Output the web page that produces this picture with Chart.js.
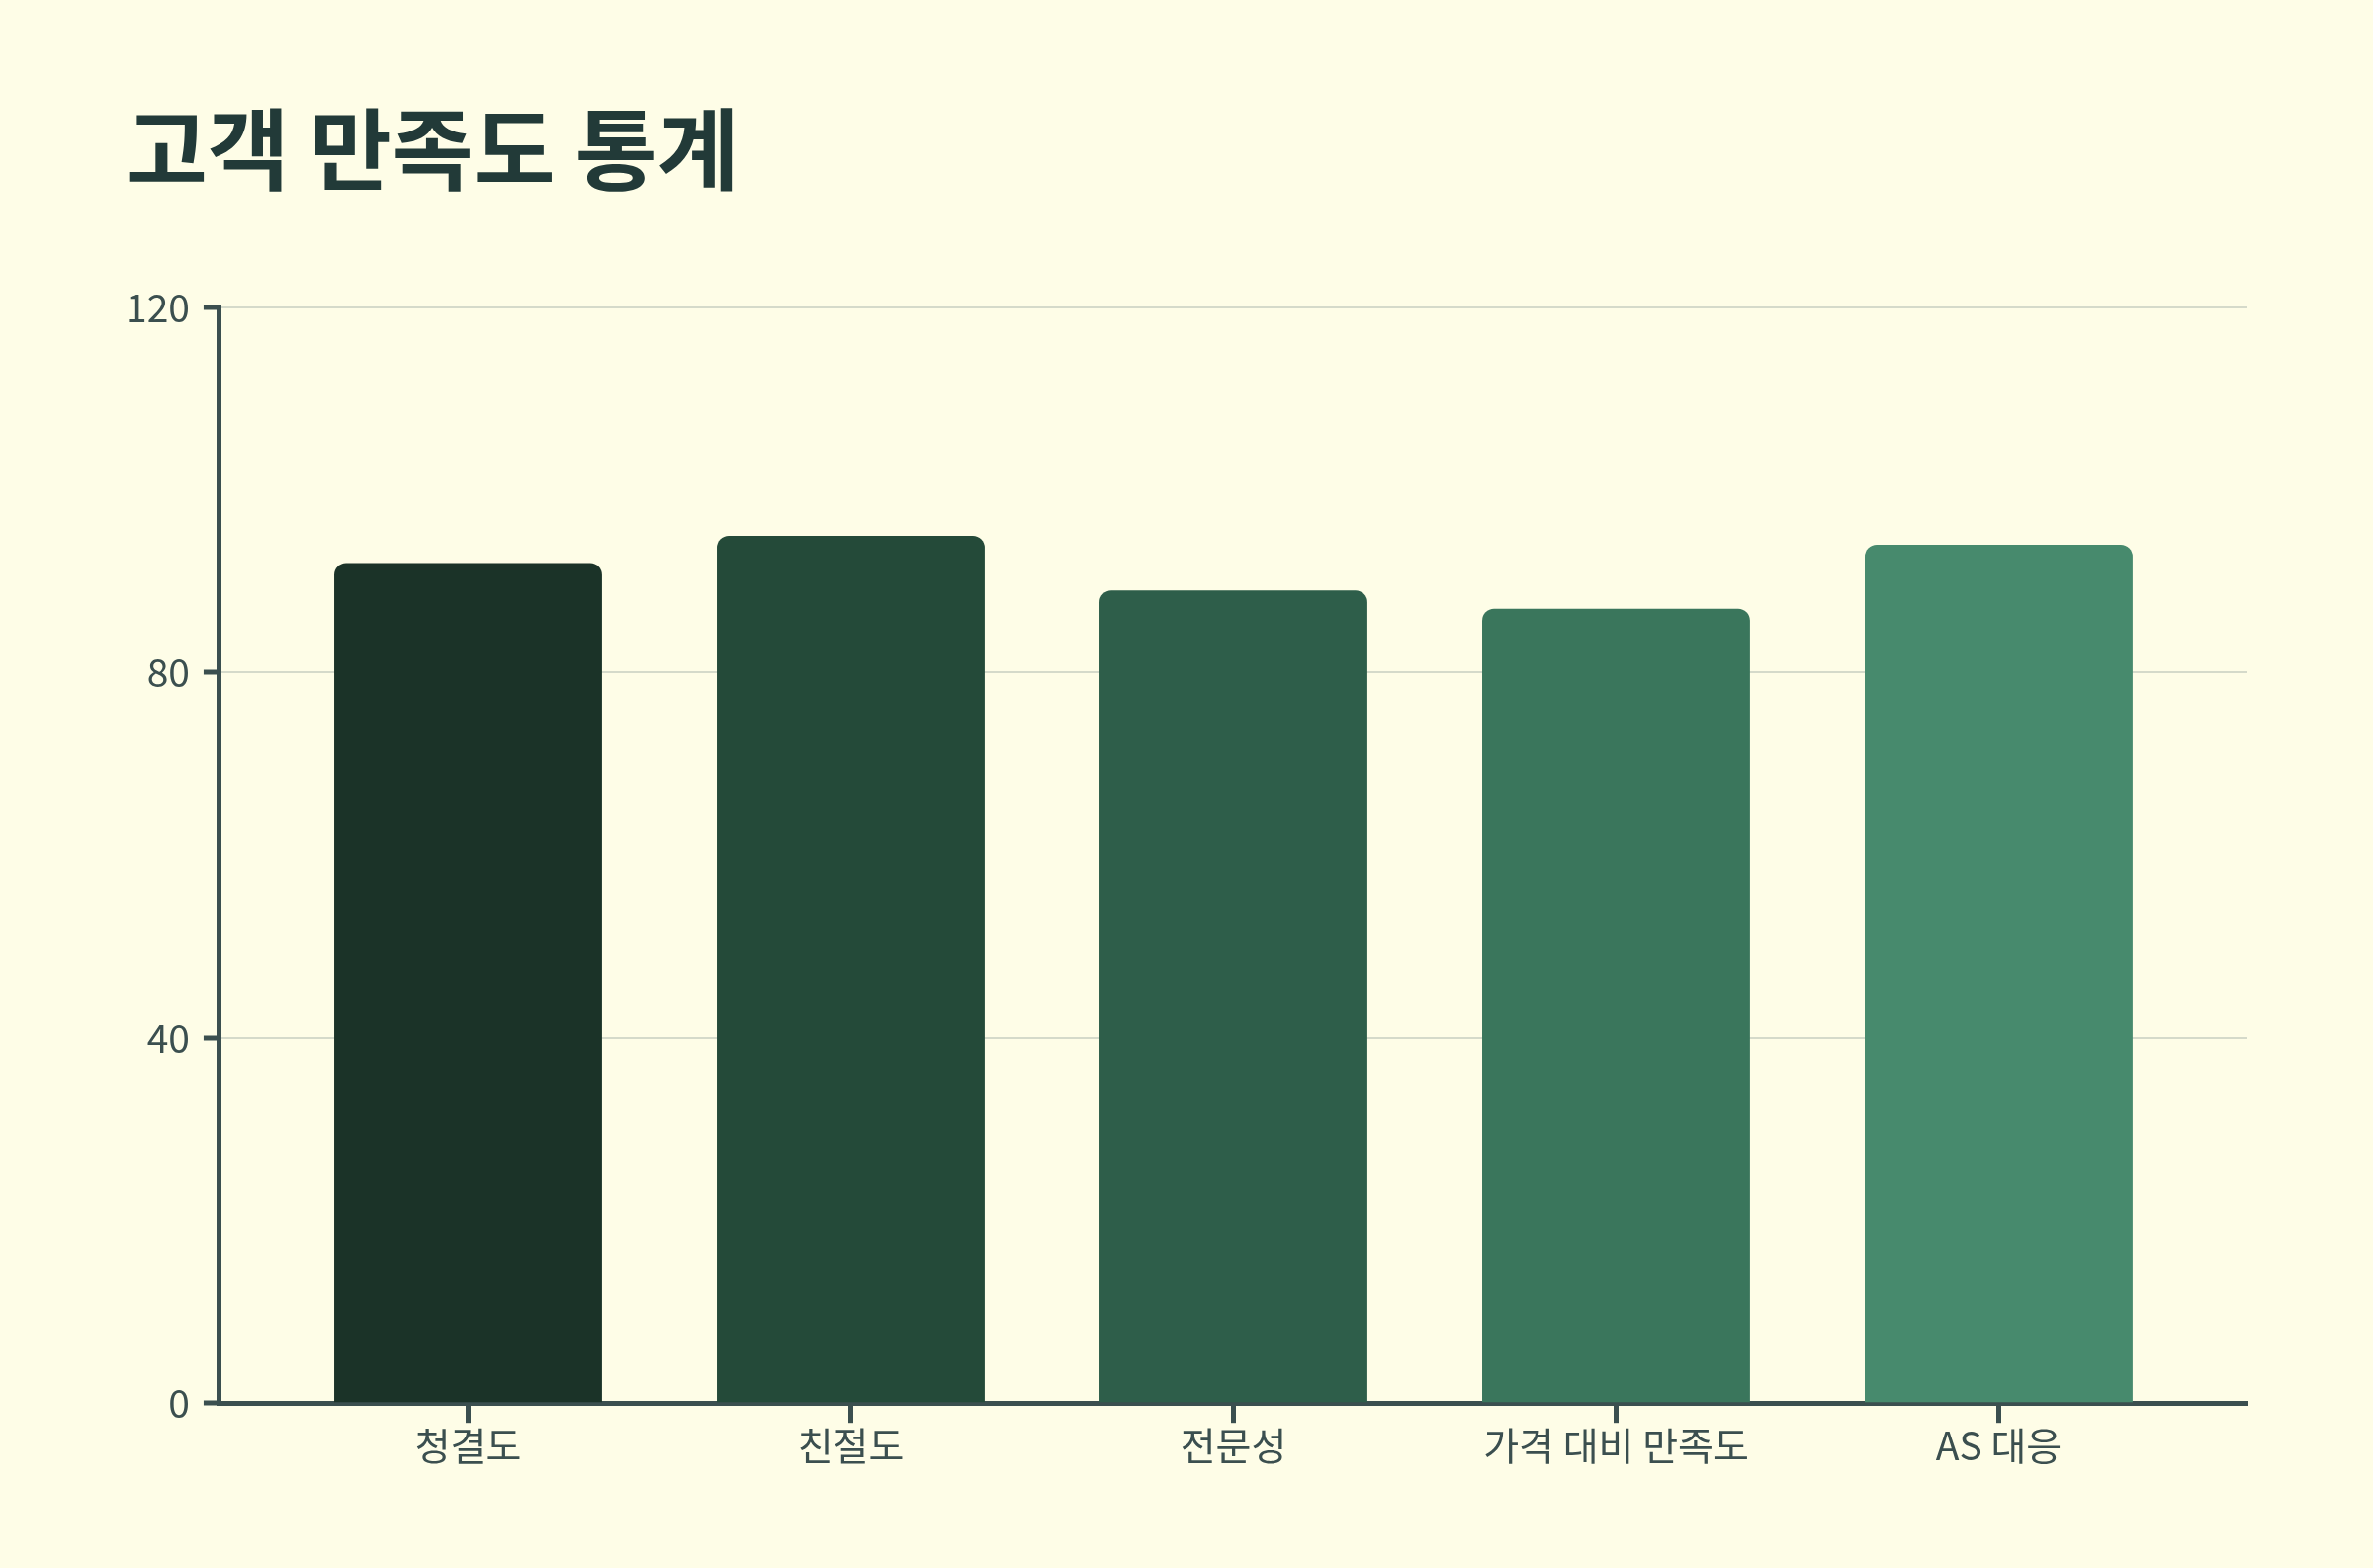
<!DOCTYPE html>
<html>
<head>
<meta charset="utf-8">
<script src="https://cdn.jsdelivr.net/npm/chart.js@4/dist/chart.umd.min.js"></script>
<style>
  html, body { margin:0; padding:0; background:#FEFDE7; }
  #wrap { width:2400px; height:1586px; }
</style>
</head>
<body>
<div id="wrap"><canvas id="my-chart"></canvas></div>
<script>
var categories = ["청결도", "친절도", "전문성", "가격 대비 만족도", "AS 대응"]
var scores = [92, 95, 89, 87, 94]
var barColors = ["#1B3328", "#244A39", "#2E5E4A", "#3A765C", "#478A6D"]
var yTicks = [0, 40, 80, 120]

var axisColor = "#3B4F4F"

// bars sit on a numeric x axis so the outer padding can match the band layout
var points = []
categories.forEach(function(c, i){
    points.push({ x: i, y: scores[i] })
})

var ctx = document.getElementById("my-chart").getContext('2d')

var chart = new Chart(ctx, {
    type: 'bar',
    data: {
        datasets: [
            {
                label: "만족도",
                data: points,
                backgroundColor: barColors,
                borderRadius: 12,
                borderSkipped: 'start',
                barPercentage: 0.7,
                categoryPercentage: 1
            }
        ]
    },
    options: {
        responsive: true,
        maintainAspectRatio: false,
        devicePixelRatio: 1,
        animation: false,
        layout: {
            padding: { top: 97, left: 127, right: 127, bottom: 100 }
        },
        plugins: {
            legend: { display: false },
            tooltip: { enabled: false },
            title: {
                display: true,
                text: "고객 만족도 통계",
                align: 'start',
                color: "#223A38",
                font: { family: "'Noto Sans CJK KR', sans-serif", size: 90, weight: 'bold' },
                padding: { top: 0, bottom: 106 }
            }
        },
        scales: {
            x: {
                type: 'linear',
                offset: false,
                min: -0.65,
                max: categories.length - 1 + 0.65,
                afterBuildTicks: function(axis) {
                    axis.ticks = categories.map(function(c, i){ return { value: i } })
                },
                grid: {
                    offset: false,
                    drawOnChartArea: false,
                    drawTicks: true,
                    tickLength: 20,
                    tickColor: axisColor,
                    tickWidth: 5
                },
                border: { color: axisColor, width: 5 },
                ticks: {
                    color: axisColor,
                    padding: 0,
                    autoSkip: false,
                    maxRotation: 0,
                    callback: function(value) { return categories[value] },
                    font: { family: "'Noto Sans CJK KR', sans-serif", size: 39 }
                }
            },
            y: {
                min: yTicks[0],
                max: yTicks[yTicks.length - 1],
                afterBuildTicks: function(axis) {
                    axis.ticks = yTicks.map(function(v){ return { value: v } })
                },
                afterFit: function(axis) {
                    axis.width = axis.width - 14
                },
                grid: {
                    color: "#D5DACA",
                    lineWidth: 2,
                    tickLength: 16,
                    tickColor: axisColor,
                    tickWidth: 5
                },
                border: { color: axisColor, width: 5 },
                ticks: {
                    color: axisColor,
                    padding: 14,
                    font: { family: "'Noto Sans CJK KR', sans-serif", size: 39 }
                }
            }
        }
    }
})
</script>
</body>
</html>
